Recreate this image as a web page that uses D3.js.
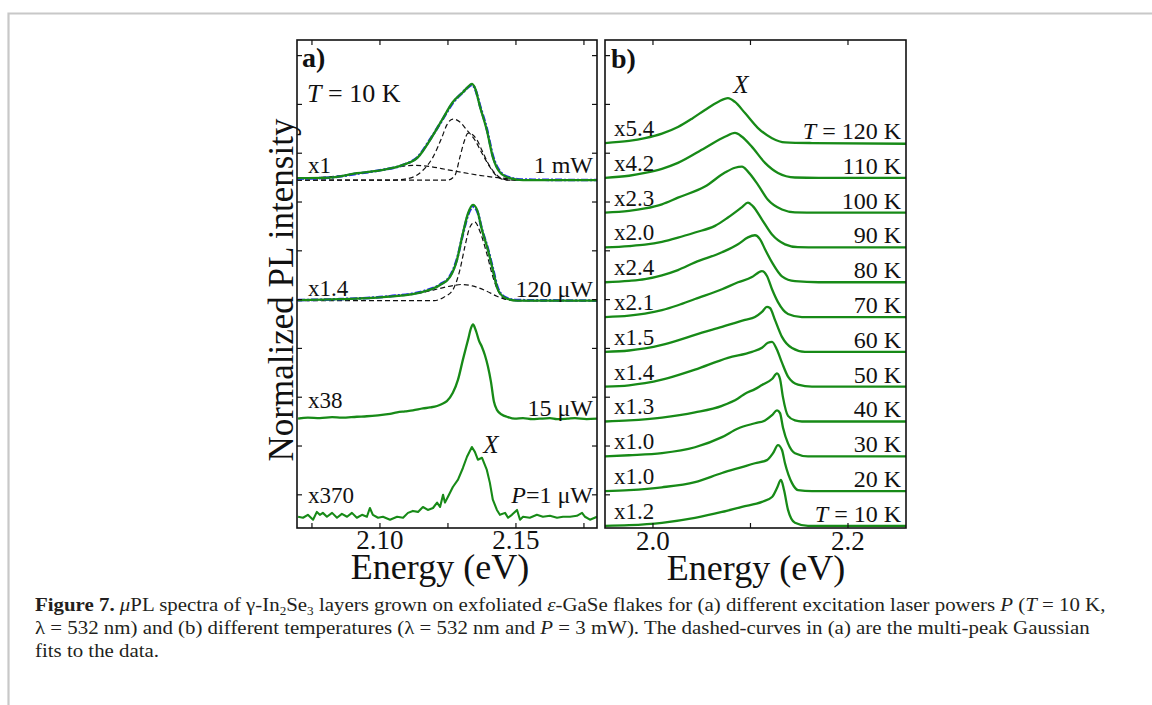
<!DOCTYPE html>
<html><head><meta charset="utf-8">
<script src="https://cdn.jsdelivr.net/npm/d3@7"></script>
<style>body{margin:0;background:#fff} svg{display:block}</style>
</head><body>
<svg id="fig" width="1152" height="705"></svg>
<script>
// ---------------- DATA ----------------
// Panel (a): power series, [energy eV, height above baseline]
const powerLabels = ["1 mW", "120 μW", "15 μW", "P=1 μW"];
const powerFactors = ["x1", "x1.4", "x38", "x370"];
const powerOffsets = [6.45, 3.98, 1.56, -0.43];

const spec1mW = [[2.0695,0.04],[2.0816,0.05],[2.0915,0.14],[2.1000,0.20],[2.1085,0.31],[2.1140,0.47],[2.1184,0.82],[2.1228,1.23],[2.1268,1.60],[2.1305,1.80],[2.1324,1.91],[2.1338,1.97],[2.1349,1.89],[2.1368,1.50],[2.1393,1.02],[2.1415,0.47],[2.1441,0.16],[2.1478,0.04],[2.1526,0],[2.1798,0]];
const fit1mW = [[2.0695,0.03],[2.0816,0.05],[2.0915,0.13],[2.1000,0.20],[2.1085,0.31],[2.1140,0.48],[2.1184,0.83],[2.1228,1.22],[2.1268,1.58],[2.1305,1.80],[2.1324,1.90],[2.1338,1.95],[2.1349,1.88],[2.1368,1.52],[2.1393,1.05],[2.1415,0.50],[2.1441,0.18],[2.1478,0.05],[2.1526,0.01],[2.1798,0]];
const gauss1mW_A = [[2.0695,0.03],[2.08,0.06],[2.09,0.12],[2.10,0.20],[2.107,0.27],[2.112,0.30],[2.118,0.28],[2.125,0.21],[2.133,0.13],[2.14,0.07],[2.147,0.03],[2.155,0.005],[2.1798,0]];
const gauss1mW_B = [[2.0695,0],[2.105,0],[2.1110,0.04],[2.1158,0.20],[2.1195,0.47],[2.1228,0.88],[2.1246,1.13],[2.1268,1.25],[2.1294,1.19],[2.1320,1.02],[2.1349,0.82],[2.1375,0.55],[2.1404,0.27],[2.1434,0.06],[2.1467,0],[2.1798,0]];
const gauss1mW_C = [[2.0695,0],[2.1250,0],[2.1276,0.10],[2.1294,0.47],[2.1309,0.78],[2.1324,0.96],[2.1338,0.94],[2.1357,0.82],[2.1375,0.61],[2.1397,0.35],[2.1423,0.14],[2.1452,0.02],[2.1478,0],[2.1798,0]];

const spec120uW = [[2.0699,0.01],[2.0853,0.03],[2.1037,0.08],[2.1158,0.18],[2.1221,0.32],[2.1257,0.48],[2.1283,0.83],[2.1305,1.38],[2.1324,1.79],[2.1342,1.96],[2.1357,1.86],[2.1375,1.45],[2.1397,1.04],[2.1415,0.63],[2.1434,0.22],[2.1460,0.06],[2.1504,0],[2.1798,0]];
const fit120uW = [[2.0699,0.01],[2.0853,0.03],[2.1037,0.09],[2.1158,0.19],[2.1221,0.33],[2.1257,0.50],[2.1283,0.85],[2.1305,1.36],[2.1324,1.76],[2.1342,1.92],[2.1357,1.84],[2.1375,1.46],[2.1397,1.06],[2.1415,0.66],[2.1434,0.25],[2.1460,0.07],[2.1504,0.01],[2.1798,0]];
const gauss120_A = [[2.0695,0.01],[2.09,0.04],[2.105,0.10],[2.116,0.17],[2.122,0.25],[2.127,0.31],[2.130,0.33],[2.134,0.30],[2.139,0.20],[2.143,0.09],[2.147,0.02],[2.155,0],[2.1798,0]];
const gauss120_B = [[2.0695,0],[2.12,0],[2.1235,0.07],[2.1268,0.22],[2.1294,0.63],[2.1312,1.10],[2.1331,1.51],[2.1349,1.61],[2.1368,1.41],[2.1393,0.96],[2.1412,0.55],[2.1434,0.20],[2.1467,0.02],[2.15,0],[2.1798,0]];

const spec15uW = [[2.0699,0],[2.0735,0.02],[2.0779,0.01],[2.0824,0.03],[2.0860,0.02],[2.0915,0.04],[2.0952,0.05],[2.0993,0.07],[2.1037,0.10],[2.1063,0.13],[2.1092,0.15],[2.1121,0.17],[2.1158,0.21],[2.1184,0.23],[2.1210,0.26],[2.1228,0.30],[2.1246,0.36],[2.1268,0.53],[2.1287,0.80],[2.1305,1.21],[2.1324,1.62],[2.1335,1.86],[2.1342,1.93],[2.1353,1.80],[2.1364,1.60],[2.1375,1.47],[2.1386,1.30],[2.1397,1.07],[2.1408,0.76],[2.1419,0.35],[2.1430,0.18],[2.1449,0.08],[2.1467,0.04],[2.1496,0.0],[2.1526,0.01],[2.1560,-0.01],[2.1588,0.0],[2.1625,0.01],[2.1651,-0.01],[2.1690,0.0],[2.1717,0.01],[2.1760,-0.01],[2.1798,0.0]];

const spec1uW = [[2.0699,-0.02],[2.0717,-0.04],[2.0735,0.02],[2.0754,-0.08],[2.0768,0.08],[2.0779,0.02],[2.0790,0.06],[2.0805,-0.02],[2.0824,0.06],[2.0842,-0.04],[2.0860,0.04],[2.0879,-0.02],[2.0897,0.06],[2.0915,-0.04],[2.0934,0.02],[2.0952,-0.02],[2.0963,0.16],[2.0974,0.02],[2.0993,-0.04],[2.1011,-0.02],[2.1037,-0.08],[2.1063,-0.02],[2.1085,-0.04],[2.1103,0.06],[2.1121,0.10],[2.1140,0.08],[2.1158,0.18],[2.1176,0.12],[2.1195,0.16],[2.1210,0.27],[2.1221,0.18],[2.1232,0.43],[2.1239,0.27],[2.1250,0.39],[2.1268,0.59],[2.1287,0.74],[2.1305,0.98],[2.1320,1.21],[2.1338,1.41],[2.1349,1.31],[2.1360,1.15],[2.1375,1.19],[2.1393,0.94],[2.1404,0.68],[2.1415,0.33],[2.1430,0.12],[2.1441,0.02],[2.1460,0.06],[2.1471,-0.04],[2.1485,0.02],[2.1504,0.12],[2.1515,-0.08],[2.1526,-0.02],[2.1551,-0.04],[2.1577,0.02],[2.1599,-0.02],[2.1625,0.0],[2.1651,-0.04],[2.1673,-0.02],[2.1699,-0.02],[2.1724,0.0],[2.1743,0.06],[2.1754,-0.02],[2.1772,-0.08],[2.1798,-0.02]];

const aTicks = [2.075, 2.10, 2.125, 2.15, 2.175];
const aTickLabels = [[2.10, "2.10"], [2.15, "2.15"]];

// Panel (b): temperature series, top (120 K) to bottom (10 K)
const tempLabels = ["120 K","110 K","100 K","90 K","80 K","70 K","60 K","50 K","40 K","30 K","20 K","10 K"];
const tempFactors = ["x5.4","x4.2","x2.3","x2.0","x2.4","x2.1","x1.5","x1.4","x1.3","x1.0","x1.0","x1.2"];
const tempOffsets = [11,10,9,8,7,6,5,4,3,2,1,0];

const spec120K = [[1.9508,0],[1.9754,0.06],[1.9918,0.14],[2.0092,0.27],[2.0256,0.46],[2.04,0.70],[2.0533,0.95],[2.0667,1.18],[2.0769,1.29],[2.0841,1.18],[2.0944,0.86],[2.1077,0.43],[2.1221,0.14],[2.1354,0.02],[2.1631,0],[2.2595,-0.02]];
const spec110K = [[1.9508,0],[1.9754,0.06],[1.9918,0.14],[2.0092,0.26],[2.0256,0.43],[2.0533,0.86],[2.0738,1.18],[2.0841,1.29],[2.0913,1.18],[2.1015,0.89],[2.1149,0.43],[2.1282,0.14],[2.1456,0.01],[2.1700,0],[2.2595,0]];
const spec100K = [[1.9508,0],[1.9754,0.05],[1.9918,0.12],[2.0092,0.24],[2.0256,0.43],[2.0533,0.75],[2.0738,1.15],[2.0841,1.29],[2.0913,1.32],[2.0974,1.18],[2.1077,0.80],[2.1179,0.37],[2.1323,0.09],[2.1456,0.01],[2.17,0],[2.2595,0]];
const spec90K = [[1.9508,0],[1.9754,0.04],[1.9918,0.08],[2.0092,0.16],[2.0256,0.28],[2.0431,0.43],[2.0636,0.62],[2.0769,0.86],[2.0913,1.16],[2.0974,1.29],[2.1026,1.18],[2.1118,0.80],[2.1221,0.37],[2.1354,0.09],[2.1487,0.01],[2.17,0],[2.2595,0]];
const spec80K = [[1.9508,0],[1.9754,0.04],[1.9918,0.09],[2.0092,0.20],[2.0256,0.35],[2.0431,0.57],[2.0708,0.86],[2.0872,1.09],[2.0974,1.29],[2.1046,1.35],[2.1097,1.24],[2.1149,0.95],[2.1221,0.57],[2.1323,0.17],[2.1456,0.03],[2.17,0],[2.2595,0]];
const spec70K = [[1.9508,0],[1.9754,0.04],[1.9918,0.10],[2.0092,0.20],[2.0256,0.34],[2.0431,0.52],[2.0708,0.80],[2.0872,1.0],[2.1015,1.15],[2.1077,1.27],[2.1118,1.32],[2.1169,1.18],[2.1221,0.80],[2.1282,0.43],[2.1385,0.09],[2.1528,0],[2.2595,0]];
const spec60K = [[1.9508,0],[1.9754,0.04],[1.9918,0.10],[2.0092,0.20],[2.0256,0.33],[2.0431,0.49],[2.0708,0.72],[2.0944,0.92],[2.1046,1.0],[2.1118,1.15],[2.1169,1.29],[2.1200,1.26],[2.1251,0.92],[2.1323,0.43],[2.1426,0.11],[2.1559,0],[2.2595,0]];
const spec50K = [[1.9508,0],[1.9754,0.04],[1.9918,0.10],[2.0092,0.20],[2.0256,0.33],[2.0431,0.49],[2.0769,0.83],[2.1015,1.0],[2.1118,1.12],[2.1179,1.26],[2.1221,1.29],[2.1272,1.06],[2.1323,0.69],[2.1385,0.29],[2.1487,0.06],[2.1631,0],[2.2595,0]];
const spec40K = [[1.9508,0],[1.9754,0.03],[2.0092,0.11],[2.0431,0.26],[2.0708,0.45],[2.0872,0.66],[2.0944,0.80],[2.1046,0.93],[2.1118,1.05],[2.1221,1.22],[2.1272,1.38],[2.1303,1.22],[2.1333,0.70],[2.1385,0.16],[2.1456,0.03],[2.1528,0],[2.2595,0]];
const spec30K = [[1.9508,0],[1.9754,0.03],[2.0092,0.09],[2.0431,0.26],[2.0708,0.55],[2.0872,0.80],[2.1046,0.95],[2.1149,1.03],[2.1221,1.18],[2.1272,1.32],[2.1303,1.24],[2.1333,0.83],[2.1385,0.37],[2.1456,0.09],[2.1590,0],[2.2595,0]];
const spec20K = [[1.9508,0],[1.9754,0.03],[2.0092,0.11],[2.0431,0.26],[2.0708,0.52],[2.0913,0.69],[2.1046,0.80],[2.1169,0.89],[2.1231,1.09],[2.1282,1.32],[2.1323,1.18],[2.1354,0.80],[2.1426,0.23],[2.1487,0.03],[2.1631,0],[2.2595,0]];
const spec10K = [[1.9508,0],[1.9754,0.02],[2.0092,0.09],[2.0431,0.23],[2.0708,0.40],[2.0913,0.55],[2.1118,0.69],[2.1221,0.83],[2.1272,1.09],[2.1313,1.32],[2.1344,1.03],[2.1385,0.46],[2.1456,0.09],[2.1590,0],[2.2595,0]];
const tempSpectra = [spec120K,spec110K,spec100K,spec90K,spec80K,spec70K,spec60K,spec50K,spec40K,spec30K,spec20K,spec10K];

const bTicks = [2.0, 2.1, 2.2];
const bTickLabels = [[2.0, "2.0"], [2.2, "2.2"]];
const frameYTicks = [0,1,2,3,4,5,6,7,8,9];

// ---------------- DRAWING ----------------
const FONT = "'Liberation Serif','Times New Roman',Times,serif";
const GREEN = "#178a17";
const BLUE = "#2424ff";
const svg = d3.select("#fig");
svg.append("rect").attr("width",1152).attr("height",705).attr("fill","#fff");
svg.append("path").attr("d","M8.5,705V13.5H1152").attr("fill","none").attr("stroke","#c8c8c8").attr("stroke-width",2.2);

const xA = d3.scaleLinear().domain([2.0695, 2.1798]).range([297, 597]);
const yA = d3.scaleLinear().domain([-0.68, 9.32]).range([528, 40]);
const xB = d3.scaleLinear().domain([1.9508, 2.2595]).range([605, 906]);
const yB = d3.scaleLinear().domain([-0.06, 13.96]).range([528, 40]);

const defs = svg.append("defs");
defs.append("clipPath").attr("id","clipA").append("rect").attr("x",297).attr("y",40).attr("width",300).attr("height",488);
defs.append("clipPath").attr("id","clipB").append("rect").attr("x",605).attr("y",40).attr("width",301).attr("height",488);

function lineGen(x, y, off, curve) {
  return d3.line().x(d => x(d[0])).y(d => y(off + d[1])).curve(curve || d3.curveMonotoneX);
}
function txt(g, x, y, size, anchor, parts, extra) {
  const t = g.append("text").attr("x", x).attr("y", y).attr("font-family", FONT)
    .attr("font-size", size).attr("text-anchor", anchor || "start").attr("fill", "#111");
  parts.forEach(p => {
    const s = typeof p === "string" ? {t: p} : p;
    const ts = t.append("tspan").text(s.t);
    if (s.i) ts.attr("font-style", "italic");
    if (s.b) ts.attr("font-weight", "bold");
    if (s.dy) ts.attr("dy", s.dy);
    if (s.fs) ts.attr("font-size", s.fs);
  });
  if (extra) extra(t);
  return t;
}

// ---- Panel A ----
const gA = svg.append("g");
const cA = gA.append("g").attr("clip-path","url(#clipA)");
const dashStyle = p => p.attr("fill","none").attr("stroke","#111").attr("stroke-width",1.2).attr("stroke-dasharray","5,3");
[gauss1mW_A, gauss1mW_B, gauss1mW_C].forEach(d => dashStyle(cA.append("path").attr("d", lineGen(xA, yA, powerOffsets[0])(d))));
[gauss120_A, gauss120_B].forEach(d => dashStyle(cA.append("path").attr("d", lineGen(xA, yA, powerOffsets[1])(d))));
[[fit1mW,0],[fit120uW,1]].forEach(([d,i]) => cA.append("path").attr("d", lineGen(xA, yA, powerOffsets[i])(d))
  .attr("fill","none").attr("stroke",BLUE).attr("stroke-width",2.6).attr("stroke-dasharray","7,2,2,2"));
[[spec1mW,0],[spec120uW,1],[spec15uW,2]].forEach(([d,i]) => cA.append("path").attr("d", lineGen(xA, yA, powerOffsets[i])(d))
  .attr("fill","none").attr("stroke",GREEN).attr("stroke-width",2.3).attr("stroke-linejoin","round"));
cA.append("path").attr("d", lineGen(xA, yA, powerOffsets[3], d3.curveLinear)(spec1uW))
  .attr("fill","none").attr("stroke",GREEN).attr("stroke-width",2.1).attr("stroke-linejoin","round");

function frame(g, x, y, xticks, xr, yr, rightTicks) {
  g.append("rect").attr("x",xr[0]).attr("y",yr[1]).attr("width",xr[1]-xr[0]).attr("height",yr[0]-yr[1])
    .attr("fill","none").attr("stroke","#111").attr("stroke-width",1.6);
  xticks.forEach(v => {
    g.append("line").attr("x1",x(v)).attr("x2",x(v)).attr("y1",yr[0]).attr("y2",yr[0]-5).attr("stroke","#111").attr("stroke-width",1.2);
    g.append("line").attr("x1",x(v)).attr("x2",x(v)).attr("y1",yr[1]).attr("y2",yr[1]+5).attr("stroke","#111").attr("stroke-width",1.2);
  });
  frameYTicks.forEach(v => {
    g.append("line").attr("x1",xr[0]).attr("x2",xr[0]+5).attr("y1",yA(v)).attr("y2",yA(v)).attr("stroke","#111").attr("stroke-width",1.2);
    if (rightTicks) g.append("line").attr("x1",xr[1]).attr("x2",xr[1]-5).attr("y1",yA(v)).attr("y2",yA(v)).attr("stroke","#111").attr("stroke-width",1.2);
  });
}
frame(gA, xA, yA, aTicks, xA.range(), yA.range(), true);

// Panel A texts
txt(gA, 302, 67, 28, "start", [{t:"a)", b:true}]);
txt(gA, 307, 102, 26, "start", [{t:"T", i:true}, " = 10 K"]);
const aLeftDy = [-7, -5, -11, -13];
const aRightDy = [-7, -4, -3, -13];
powerOffsets.forEach((o, i) => {
  txt(gA, 308, yA(o) + aLeftDy[i], 23, "start", [powerFactors[i]]);
  const lab = powerLabels[i];
  const parts = lab.startsWith("P=") ? [{t:"P", i:true}, lab.slice(1)] : [lab];
  txt(gA, 593, yA(o) + aRightDy[i], 24, "end", parts);
});
txt(gA, 491, 453, 25, "middle", [{t:"X", i:true}]);
aTickLabels.forEach(([v, s]) => txt(gA, xA(v), 549, 27, "middle", [s]));
txt(gA, 440, 579, 36, "middle", ["Energy (eV)"]);
txt(svg, 0, 0, 35, "middle", ["Normalized PL intensity"], t => t.attr("transform","translate(293,290) rotate(-90)"));

// ---- Panel B ----
const gB = svg.append("g");
const cB = gB.append("g").attr("clip-path","url(#clipB)");
tempSpectra.forEach((d, i) => cB.append("path").attr("d", lineGen(xB, yB, tempOffsets[i])(d))
  .attr("fill","none").attr("stroke",GREEN).attr("stroke-width",2.3).attr("stroke-linejoin","round"));
frame(gB, xB, yB, bTicks, xB.range(), yB.range(), false);

txt(gB, 611, 68, 28, "start", [{t:"b)", b:true}]);
txt(gB, 741, 93, 25, "middle", [{t:"X", i:true}]);
tempOffsets.forEach((o, i) => {
  txt(gB, 614, yB(o) - 7, 23, "start", [tempFactors[i]]);
  const parts = (i === 0 || i === tempLabels.length - 1) ? [{t:"T", i:true}, " = " + tempLabels[i]] : [tempLabels[i]];
  txt(gB, 901, yB(o) - 4, 24, "end", parts);
});
bTickLabels.forEach(([v, s]) => txt(gB, xB(v), 550, 27, "middle", [s]));
txt(gB, 756, 580, 36, "middle", ["Energy (eV)"]);

// ---- Caption ----
const capLines = [
  [{t:"Figure 7.", b:true}, "  ", {t:"μ", i:true}, "PL spectra of γ-In", {t:"2", dy:4, fs:12}, {t:"Se", dy:-4}, {t:"3", dy:4, fs:12}, {t:" layers grown on exfoliated ", dy:-4}, {t:"ε", i:true}, "-GaSe flakes for (a) different excitation laser powers ", {t:"P", i:true}, " (", {t:"T", i:true}, " = 10 K,"],
  ["λ = 532 nm) and (b) different temperatures (λ = 532 nm and ", {t:"P", i:true}, " = 3 mW). The dashed-curves in (a) are the multi-peak Gaussian"],
  ["fits to the data."]
];
const capY = [611, 634, 657];
const capNodes = capLines.map((parts, i) => txt(svg, 0, 0, 19, "start", parts, t => t.attr("fill", "#231f20")));
const w0 = capNodes[0].node().getComputedTextLength();
const sx = 1071 / w0;
capNodes.forEach((t, i) => t.attr("transform", `translate(35,${capY[i]}) scale(${sx},1)`));
</script>
</body></html>
